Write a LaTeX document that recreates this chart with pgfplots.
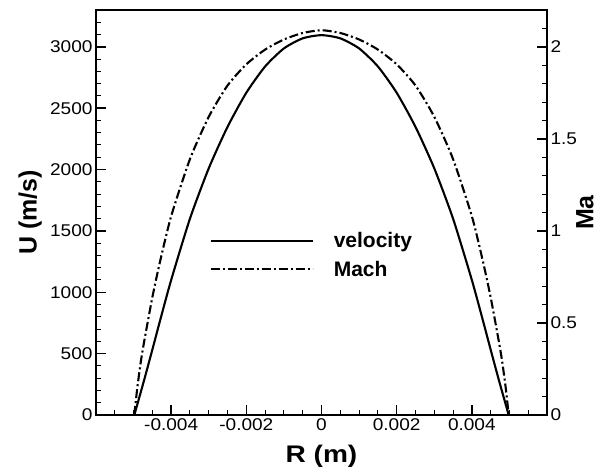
\documentclass[border=0pt]{standalone}
\usepackage{fontspec}
\setmainfont{Liberation Sans}
\newfontfamily\widefont[FakeStretch=1.12]{Liberation Sans}
\newfontfamily\widerfont[FakeStretch=1.17]{Liberation Sans}
\usepackage{pgfplots}
\usepackage{pgfplotstable}
\pgfplotsset{compat=1.18}

% radial velocity profile
\pgfplotstableread{
x u
-0.00498 0
-0.0049 87
-0.0048 196
-0.0047 306
-0.0045 533
-0.0043 764
-0.004 1100
-0.0035 1600
-0.003 2010
-0.0025 2348
-0.002 2626
-0.0015 2840
-0.001 2987
-0.0005 3069
0 3095
0.0005 3069
0.001 2987
0.0015 2840
0.002 2626
0.0025 2348
0.003 2010
0.0035 1600
0.004 1100
0.0043 764
0.0045 533
0.0047 306
0.0048 196
0.0049 87
0.00498 0
}\veltable

% Mach number profile
\pgfplotstableread{
x ma
-0.00498 0
-0.0049 0.15
-0.0048 0.30
-0.0047 0.42
-0.0045 0.64
-0.0043 0.83
-0.004 1.08
-0.0035 1.39
-0.003 1.62
-0.0025 1.79
-0.002 1.905
-0.0015 1.985
-0.001 2.04
-0.0005 2.075
0 2.09
0.0005 2.075
0.001 2.04
0.0015 1.985
0.002 1.905
0.0025 1.79
0.003 1.62
0.0035 1.39
0.004 1.08
0.0043 0.83
0.0045 0.64
0.0047 0.42
0.0048 0.30
0.0049 0.15
0.00498 0
}\machtable

\begin{document}
\begin{tikzpicture}
\pgfplotsset{
  every axis/.append style={
    scale only axis, width=451pt, height=405pt,
    xmin=-0.006, xmax=0.006,
    axis line style={line width=1.9pt},
    tick align=inside,
    major tick length=10pt, minor tick length=5pt,
    every major tick/.append style={black, line width=1.4pt},
    every minor tick/.append style={black, line width=1pt},
    tick label style={font=\widefont\fontsize{17}{20}\selectfont},
    label style={font=\bfseries\fontsize{25}{30}\selectfont},
  }
}
\path (-96pt,-56pt) rectangle (509pt,415pt);

\begin{axis}[
  ymin=0, ymax=3300,
  scaled x ticks=false,
  xtick={-0.004,-0.002,0,0.002,0.004},
  xticklabels={-0.004,-0.002,0,0.002,0.004},
  minor xtick={-0.0055,-0.005,-0.0045,-0.0035,-0.003,-0.0025,-0.0015,-0.001,-0.0005,0.0005,0.001,0.0015,0.0025,0.003,0.0035,0.0045,0.005,0.0055},
  ytick={0,500,1000,1500,2000,2500,3000},
  yticklabels={0,500,1000,1500,2000,2500,3000},
  minor ytick={100,200,...,3300},
  xtick pos=left, ytick pos=left,
  xlabel={R (m)}, ylabel={U (m/s)},
  xlabel style={at={(axis description cs:0.5,-0.101)}, anchor=center, font=\widerfont\bfseries\fontsize{24}{30}\selectfont},
  ylabel style={at={(axis description cs:-0.146,0.5)}, anchor=center},
]
\addplot[black, line width=2.1pt, smooth, tension=0.4] table[x=x, y=u] {\veltable};
\end{axis}

\begin{axis}[
  ymin=0, ymax=2.2,
  hide x axis,
  ytick={0,0.5,1,1.5,2},
  yticklabels={0,0.5,1,1.5,2},
  minor ytick={0.1,0.2,...,2.2},
  ytick pos=right, yticklabel pos=right,
  ylabel={Ma},
  ylabel style={at={(axis description cs:1.084,0.5)}, anchor=center},
  legend style={draw=none, fill=none, at={(axis description cs:0.245,0.395)}, anchor=west,
    font=\bfseries\fontsize{21}{25}\selectfont, row sep=8pt},
  legend cell align=left,
  legend image code/.code={\draw[#1] (0pt,0pt) -- (102pt,0pt);},
  legend style={/tikz/every odd column/.append style={column sep=18pt}},
]
\addlegendimage{black, line width=2.1pt}
\addlegendentry{velocity}
\addplot[black, line width=2.1pt, smooth, tension=0.4, dash pattern=on 9pt off 3pt on 2pt off 3pt] table[x=x, y=ma] {\machtable};
\addlegendentry{Mach}
\end{axis}
\end{tikzpicture}
\end{document}
